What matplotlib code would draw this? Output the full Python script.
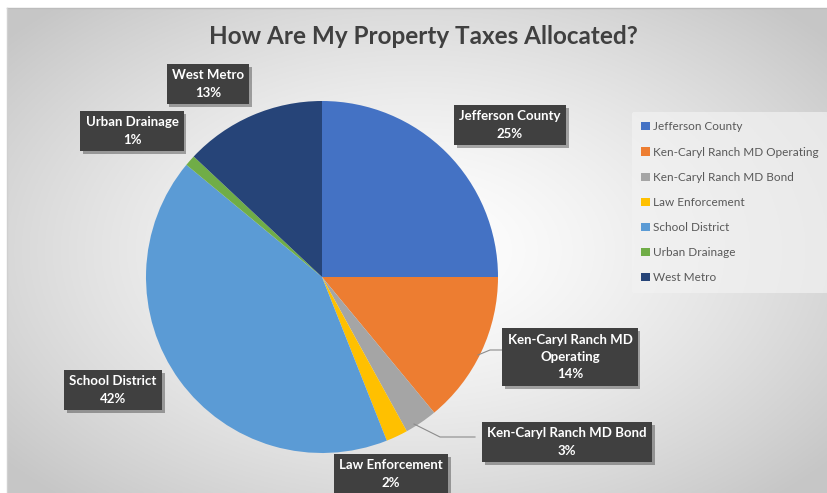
import numpy as np
import matplotlib.pyplot as plt
import matplotlib.patheffects as pe

plt.rcParams['font.family'] = ['Lato', 'DejaVu Sans']

# data
categories = ["Jefferson County", "Ken-Caryl Ranch MD Operating", "Ken-Caryl Ranch MD Bond",
              "Law Enforcement", "School District", "Urban Drainage", "West Metro"]
shares = [25, 14, 3, 2, 42, 1, 13]
colors = ["#4472C4", "#ED7D31", "#A5A5A5", "#FFC000", "#5B9BD5", "#70AD47", "#264478"]
label_text = ["Jefferson County", "Ken-Caryl Ranch MD\nOperating", "Ken-Caryl Ranch MD Bond",
              "Law Enforcement", "School District", "Urban Drainage", "West Metro"]

# label box centres in pixels (layout only)
label_px = [(510, 125), (570, 357), (567, 442), (391, 474), (113, 390), (132, 131), (208, 84)]

W, H = 828, 493
fig = plt.figure(figsize=(W / 100, H / 100), dpi=100)

# gradient background of the chart area
bg = fig.add_axes([7 / W, 0, 1 - 7 / W, 1 - 8 / H])
yy, xx = np.mgrid[-1:1:300j, -1:1:500j]
r = np.sqrt((xx / 1.0) ** 2 + (yy / 1.05) ** 2)
shade = 1.0 - 0.22 * np.clip(r / 1.3, 0, 1) ** 1.4
bg.imshow(np.dstack([shade] * 3), aspect='auto', extent=[0, 1, 0, 1])
bg.set_axis_off()
fig.add_artist(plt.Line2D([7 / W, 1], [1 - 8 / H, 1 - 8 / H], color="#bcbcbc", lw=1))
fig.add_artist(plt.Line2D([7 / W, 7 / W], [0, 1 - 8 / H], color="#d0d0d0", lw=1))

# pie
cx, cy, R = 322, 277, 176
ax = fig.add_axes([(cx - R) / W, (H - cy - R) / H, 2 * R / W, 2 * R / H])
wedges, _ = ax.pie(shares, colors=colors, startangle=90, counterclock=False,
                   wedgeprops=dict(linewidth=0))
ax.set_xlim(-1, 1)
ax.set_ylim(-1, 1)
ax.set_aspect('equal')
ax.set_axis_off()

# leader lines
def px2fig(x, y):
    return x / W, 1 - y / H

for pts in [[(478, 355), (490, 350), (503, 350)], [(414, 424), (440, 437), (475, 437)]]:
    xs, ys = zip(*[px2fig(*p) for p in pts])
    fig.add_artist(plt.Line2D(xs, ys, color="#8c8c8c", lw=0.8))

# data labels
for txt, val, (lx, ly) in zip(label_text, shares, label_px):
    fx, fy = px2fig(lx, ly)
    t = fig.text(fx, fy, f"{txt}\n{val}%", ha='center', va='center', color='white',
                 fontsize=9.5, fontweight='bold', linespacing=1.55,
                 bbox=dict(boxstyle='square,pad=0.4', fc='#404040', ec='none'))
    t.get_bbox_patch().set_path_effects([pe.SimplePatchShadow(offset=(2, -2), alpha=0.35), pe.Normal()])

fig.text(423 / W, 1 - 37 / H, "How Are My Property Taxes Allocated?", ha='center', va='center',
         fontsize=17.5, fontweight='bold', color='#404040')

leg = fig.legend(wedges, categories, loc='upper left', bbox_to_anchor=(632 / W, 1 - 112 / H),
                 frameon=True, fontsize=8.5, handlelength=0.7, handleheight=0.7,
                 labelspacing=1.2, handletextpad=0.3, borderpad=0.8, borderaxespad=0)
leg.get_frame().set_facecolor('#f2f2f2')
leg.get_frame().set_edgecolor('none')
leg.get_frame().set_alpha(0.7)
for t in leg.get_texts():
    t.set_color('#595959')

fig.savefig("out.png", dpi=100)
